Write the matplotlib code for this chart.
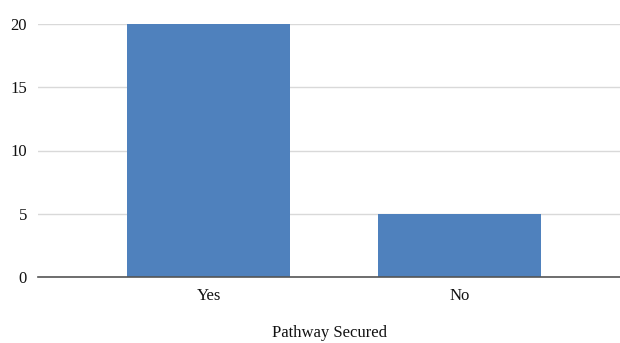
import matplotlib.pyplot as plt
import matplotlib.ticker as mticker

categories = ["Yes", "No"]
counts = [20, 5]
y_ticks = [0, 5, 10, 15, 20]

plt.rcParams.update({
    'font.family': 'Liberation Serif',
    'font.size': 12,
})

fig = plt.figure(figsize=(6.2, 3.43), dpi=100)
ax = fig.add_axes([38 / 620, 1 - 277 / 343, 1 - 38 / 620, (277 - 24) / 343])

x = range(len(categories))
ax.bar(x, counts, width=0.65, color='#4f81bd', zorder=3)

ax.set_xlim(-0.68, 1.64)
ax.set_ylim(0, 20)
ax.set_yticks(y_ticks)
ax.set_xticks(list(x))
ax.set_xticklabels(categories)
ax.set_xlabel('Pathway Secured', labelpad=15, color='#111111')

ax.grid(True, axis='y', color='#d9d9d9', linewidth=1.0, zorder=0)
for s in ['top', 'right', 'left']:
    ax.spines[s].set_visible(False)
ax.spines['bottom'].set_color('#555555')
ax.spines['bottom'].set_linewidth(1.2)
ax.spines['bottom'].set_zorder(4)
ax.tick_params(axis='both', length=0, colors='#111111', labelsize=12)
ax.tick_params(axis='y', pad=8)
ax.tick_params(axis='x', pad=8)

fig.savefig('out.png', dpi=100)
